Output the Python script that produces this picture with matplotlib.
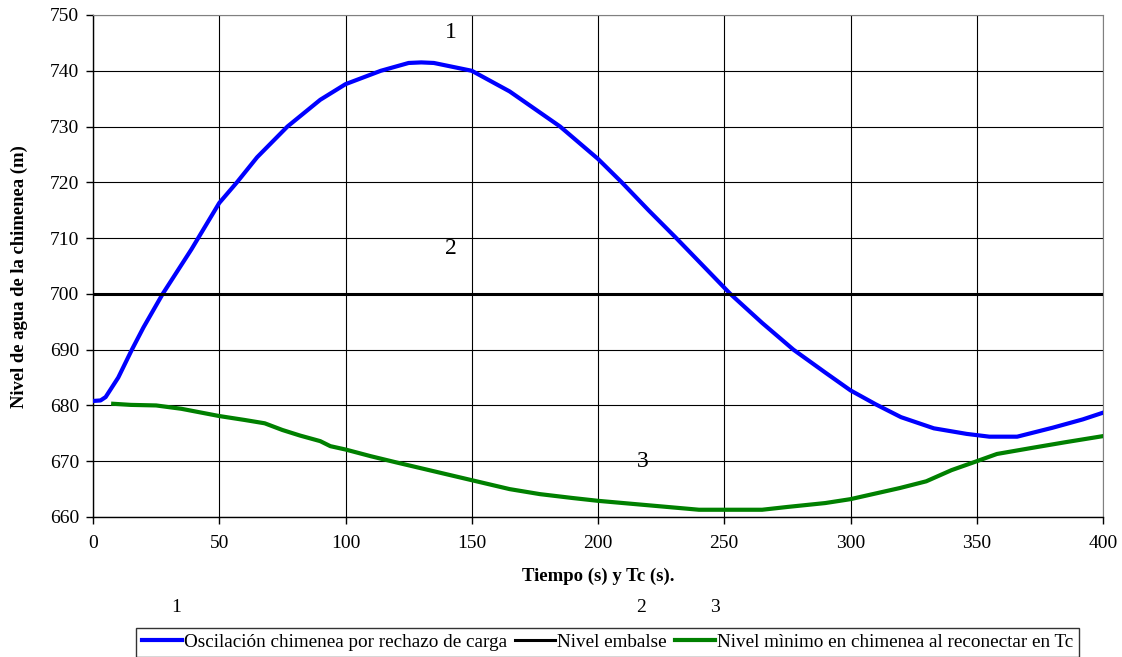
import numpy as np
import matplotlib
matplotlib.use('Agg')
import matplotlib.pyplot as plt

# data
t_blue = [0, 3, 5, 10, 15.4, 20, 27.6, 39, 50, 57, 65, 77, 90, 100, 114, 125, 130,
          135, 150, 165, 185, 200, 209.4, 220, 231, 252.4, 265, 277.4, 290, 300,
          310, 320, 333, 346, 355, 366, 380, 392, 400]
blue = [680.8, 680.9, 681.5, 685.0, 690, 694.0, 700, 708, 716.3, 720, 724.5, 730,
        734.8, 737.6, 740, 741.4, 741.5, 741.4, 740, 736.3, 730, 724.2, 720, 715,
        710, 700, 694.8, 690, 685.9, 682.7, 680.2, 677.9, 675.9, 674.9, 674.4,
        674.4, 676.0, 677.5, 678.7]

t_green = [8, 15, 25, 35, 50, 60, 68, 75, 82, 90, 94, 100, 110, 120, 135, 150,
           165, 177, 190, 200, 215, 230, 240, 250, 265, 275, 290, 300, 319.6, 330,
           340, 350, 358, 372, 385, 400]
green = [680.3, 680.1, 680.0, 679.4, 678.1, 677.4, 676.8, 675.6, 674.6, 673.6,
         672.7, 672.1, 670.9, 669.8, 668.2, 666.6, 665.0, 664.1, 663.4, 662.9,
         662.3, 661.7, 661.3, 661.3, 661.3, 661.8, 662.5, 663.2, 665.2, 666.4,
         668.4, 670.0, 671.3, 672.4, 673.4, 674.5]

t_embalse = [0, 400]
embalse = [700, 700]

series_labels = ['Oscilación chimenea por rechazo de carga', 'Nivel embalse',
                 'Nivel mìnimo en chimenea al reconectar en Tc']

plt.rcParams['font.family'] = ['Liberation Serif', 'DejaVu Serif']

fig = plt.figure(figsize=(11.22, 6.57), dpi=100)
ax = fig.add_axes([93 / 1122, 1 - 517 / 657, 1010 / 1122, 502 / 657])

ax.plot(t_blue, blue, color='#0000ff', lw=3, label=series_labels[0], zorder=3)
ax.plot(t_embalse, embalse, color='black', lw=2.2, label=series_labels[1], zorder=3)
ax.plot(t_green, green, color='#008000', lw=3, label=series_labels[2], zorder=3)

ax.set_xlim(0, 400)
ax.set_ylim(660, 750)
ax.set_xticks(np.arange(0, 401, 50))
ax.set_yticks(np.arange(660, 751, 10))
ax.grid(True, color='black', lw=0.8)
ax.set_axisbelow(True)
ax.tick_params(labelsize=14, direction='out', length=5, width=1, colors='black')
ax.tick_params(axis='x', pad=8)
ax.tick_params(axis='y', pad=5)
for side in ['top', 'right']:
    ax.spines[side].set_color('#808080')
for side in ['left', 'bottom']:
    ax.spines[side].set_linewidth(1)

ax.set_xlabel('Tiempo (s) y Tc (s).', fontsize=13.5, fontweight='bold')
ax.set_ylabel('Nivel de agua de la chimenea (m)', fontsize=13.4, fontweight='bold')
ax.xaxis.set_label_coords(0.5, -(576 - 517) / 502, transform=ax.transAxes)
ax.yaxis.set_label_coords(-(93 - 19) / 1010, (517 - 277) / 502)
ax.xaxis.label.set_va('center')
ax.yaxis.label.set_va('center')

# curve numbers inside the plot
ax.text(141.8, 746.8, '1', fontsize=17, ha='center', va='center')
ax.text(141.8, 708.2, '2', fontsize=17, ha='center', va='center')
ax.text(217.8, 669.9, '3', fontsize=17, ha='center', va='center')

# numbers above the legend
fig.text(176 / 1122, 1 - 608 / 657, '1', fontsize=14, ha='center', va='center')
fig.text(641 / 1122, 1 - 608 / 657, '2', fontsize=14, ha='center', va='center')
fig.text(715 / 1122, 1 - 608 / 657, '3', fontsize=14, ha='center', va='center')

leg = fig.legend(loc='upper center', bbox_to_anchor=(607.5 / 1122, 1 - 628 / 657),
                 ncol=3, fontsize=13.8, frameon=True, fancybox=False,
                 edgecolor='black', handlelength=2.1, handletextpad=0.1,
                 columnspacing=0.4, borderpad=0.3, borderaxespad=0)
leg.get_frame().set_linewidth(1)

fig.savefig('out.png', dpi=100)
